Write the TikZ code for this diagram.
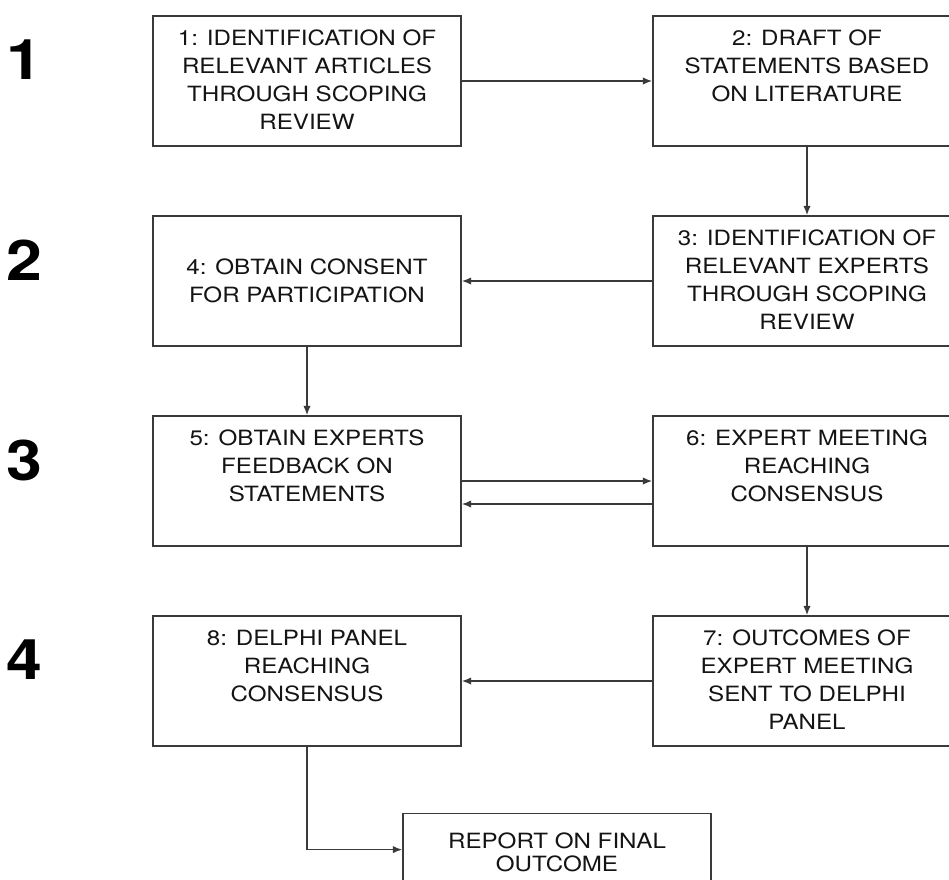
\documentclass[tikz,border=0pt]{standalone}
\usepackage{fontspec}
\setmainfont[FakeStretch=1.15]{TeX Gyre Heros}
\usetikzlibrary{positioning, arrows.meta}
\definecolor{linegray}{HTML}{3A3A3A}
\definecolor{textgray}{HTML}{141414}
\newcommand{\boxtext}[2][22pt]{\parbox[c][97.5pt][t]{225pt}{\centering\rule{0pt}{#1}#2}}
\newcommand{\midtext}[1]{\parbox[c][97.5pt][c]{225pt}{\centering #1}}

\begin{document}
\begin{tikzpicture}[x=1pt, y=1pt, node distance=150pt and 375pt, on grid,
    stepbox/.style={draw=linegray, line width=1.1pt, inner sep=0pt,
      minimum width=231pt, minimum height=97.5pt, text=textgray,
      font=\fontsize{15.75}{21}\selectfont},
    rowlabel/.style={font=\fontsize{42}{42}\selectfont\bfseries, text=black},
    flow/.style={-{Latex[length=7pt,width=5.5pt]}, draw=linegray, line width=1.1pt}]

    \useasboundingbox (0,0) rectangle (711.75,-659.25);

    \node[stepbox] (b1) at (230.25,-60.75)
      {\boxtext{1: IDENTIFICATION OF\\RELEVANT ARTICLES\\THROUGH SCOPING\\REVIEW}};
    \node[stepbox] (b2) [right=of b1]
      {\boxtext{2: DRAFT OF\\STATEMENTS BASED\\ON LITERATURE}};
    \node[stepbox] (b3) [below=of b2]
      {\boxtext{3: IDENTIFICATION OF\\RELEVANT EXPERTS\\THROUGH SCOPING\\REVIEW}};
    \node[stepbox] (b4) [below=of b1]
      {\midtext{4: OBTAIN CONSENT\\FOR PARTICIPATION}};
    \node[stepbox] (b5) [below=of b4]
      {\boxtext{5: OBTAIN EXPERTS\\FEEDBACK ON\\STATEMENTS}};
    \node[stepbox] (b6) [below=of b3]
      {\boxtext{6: EXPERT MEETING\\REACHING\\CONSENSUS}};
    \node[stepbox] (b7) [below=of b6]
      {\boxtext{7: OUTCOMES OF\\EXPERT MEETING\\SENT TO DELPHI\\PANEL}};
    \node[stepbox] (b8) [below=of b5]
      {\boxtext{8: DELPHI PANEL\\REACHING\\CONSENSUS}};
    \node[stepbox] (rep) [below right=148pt and 187.5pt of b8]
      {\boxtext[26pt]{\fontsize{15.75}{17.5}\selectfont REPORT ON FINAL\\OUTCOME}};

    % round numbers
    \node[rowlabel] (r1) [left=212.25pt of b1, yshift=15.75pt] {1};
    \node[rowlabel] (r2) [left=212.25pt of b4, yshift=15.75pt] {2};
    \node[rowlabel] (r3) [left=212.25pt of b5, yshift=15.75pt] {3};
    \node[rowlabel] (r4) [left=212.25pt of b8, yshift=15.75pt] {4};

    \draw[flow] (b1) -- (b2);
    \draw[flow] (b2) -- (b3);
    \draw[flow] (b3) -- (b4);
    \draw[flow] (b4) -- (b5);
    \draw[flow] (b5) -- (b6);
    \draw[flow] ([yshift=-17.25pt]b6.west) -- ([yshift=-17.25pt]b5.east);
    \draw[flow] (b6) -- (b7);
    \draw[flow] (b7) -- (b8);
    \draw[flow] (b8.south) |- ([yshift=-27.75pt]rep.north west);
\end{tikzpicture}
\end{document}
